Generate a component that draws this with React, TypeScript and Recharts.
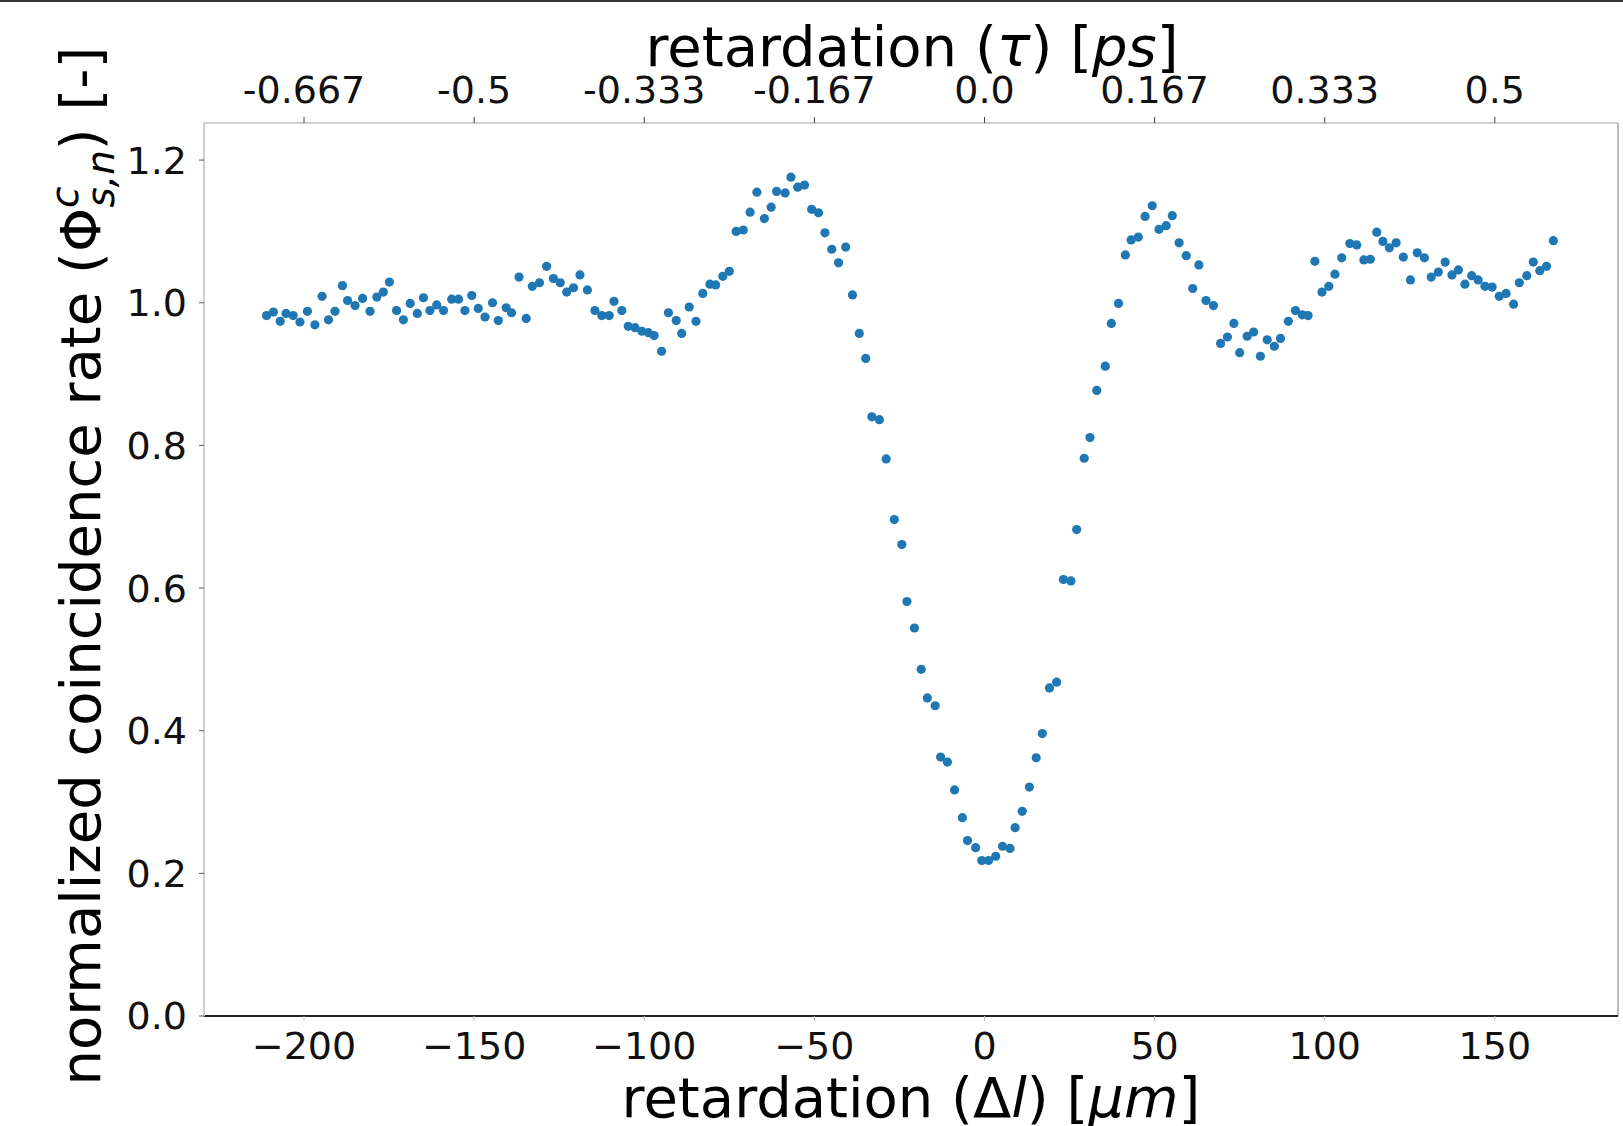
import { ScatterChart, Scatter, XAxis, YAxis, ReferenceLine, Label } from "recharts";

// retardation Δl [µm]
const retardation = [
  -211.0, -209.0, -207.0, -205.3, -203.2, -201.2, -199.0, -196.8, -194.7, -192.8,
  -190.9, -188.7, -187.2, -185.0, -182.8, -180.6, -178.6, -176.7, -174.9, -172.8,
  -170.8, -168.8, -166.7, -164.9, -163.0, -161.0, -159.0, -156.6, -154.6, -152.7,
  -150.7, -148.8, -146.8, -144.6, -142.9, -140.6, -139.0, -136.8, -134.7, -132.9,
  -130.8, -128.7, -126.7, -124.7, -122.8, -120.8, -118.9, -116.7, -114.5, -112.5,
  -110.3, -108.9, -106.6, -104.7, -102.7, -100.7, -98.8, -97.1, -94.9, -92.9,
  -90.6, -89.0, -86.8, -84.8, -82.8, -80.7, -79.0, -76.9, -75.0, -73.0,
  -70.9, -68.9, -66.9, -64.7, -62.7, -61.1, -58.6, -56.9, -54.9, -52.9,
  -50.8, -48.8, -46.9, -44.9, -42.9, -40.8, -38.8, -36.8, -34.9, -33.1,
  -30.9, -28.9, -26.5, -24.3, -22.8, -20.6, -18.6, -16.8, -14.5, -12.9,
  -10.9, -8.8, -6.5, -5.0, -2.6, -0.8, 1.2, 3.3, 5.3, 7.5,
  9.0, 11.1, 13.2, 15.2, 17.0, 19.1, 21.2, 23.2, 25.4, 27.1,
  29.3, 31.0, 33.0, 35.5, 37.3, 39.4, 41.4, 43.1, 45.2, 47.2,
  49.3, 51.3, 53.4, 55.2, 57.2, 59.3, 61.2, 63.0, 65.1, 67.3,
  69.4, 71.4, 73.3, 75.0, 77.2, 79.1, 81.1, 83.1, 85.2, 87.0,
  89.3, 91.4, 93.4, 95.1, 97.1, 99.2, 101.2, 103.0, 105.0, 107.4,
  109.4, 111.5, 113.4, 115.3, 117.1, 119.0, 121.0, 123.1, 125.2, 127.2,
  129.3, 131.3, 133.4, 135.4, 137.4, 139.3, 141.2, 143.2, 145.1, 147.1,
  149.2, 151.3, 153.3, 155.5, 157.2, 159.4, 161.3, 163.2, 165.2, 167.2,
];

// normalized coincidence rate
const rate = [
  0.982, 0.987, 0.974, 0.985, 0.982, 0.973, 0.988, 0.969, 1.009, 0.976,
  0.988, 1.024, 1.003, 0.996, 1.006, 0.988, 1.008, 1.015, 1.029, 0.989,
  0.976, 0.999, 0.985, 1.007, 0.989, 0.997, 0.989, 1.005, 1.005, 0.989,
  1.010, 0.992, 0.980, 1.000, 0.975, 0.993, 0.986, 1.036, 0.978, 1.023,
  1.028, 1.051, 1.034, 1.028, 1.015, 1.021, 1.039, 1.018, 0.989, 0.982,
  0.982, 1.002, 0.989, 0.967, 0.965, 0.960, 0.958, 0.954, 0.932, 0.986,
  0.975, 0.957, 0.994, 0.974, 1.013, 1.026, 1.025, 1.037, 1.044, 1.100,
  1.102, 1.127, 1.155, 1.118, 1.134, 1.156, 1.154, 1.176, 1.162, 1.165,
  1.131, 1.126, 1.098, 1.075, 1.056, 1.078, 1.011, 0.957, 0.922, 0.840,
  0.836, 0.781, 0.696, 0.661, 0.581, 0.544, 0.486, 0.446, 0.435, 0.363,
  0.356, 0.317, 0.278, 0.246, 0.236, 0.218, 0.218, 0.224, 0.238, 0.235,
  0.264, 0.287, 0.321, 0.362, 0.396, 0.460, 0.468, 0.612, 0.610, 0.682,
  0.782, 0.811, 0.877, 0.911, 0.971, 0.999, 1.067, 1.088, 1.092, 1.121,
  1.136, 1.103, 1.108, 1.122, 1.084, 1.066, 1.020, 1.053, 1.003, 0.996,
  0.943, 0.952, 0.971, 0.930, 0.953, 0.959, 0.925, 0.948, 0.939, 0.950,
  0.974, 0.989, 0.983, 0.982, 1.058, 1.015, 1.023, 1.040, 1.063, 1.083,
  1.081, 1.060, 1.061, 1.099, 1.086, 1.077, 1.084, 1.064, 1.032, 1.070,
  1.063, 1.036, 1.043, 1.057, 1.039, 1.046, 1.026, 1.038, 1.032, 1.023,
  1.022, 1.009, 1.013, 0.998, 1.028, 1.038, 1.057, 1.045, 1.051, 1.087,
];

const bottomTicks = [-200, -150, -100, -50, 0, 50, 100, 150];
const topTickLabels = ["-0.667", "-0.5", "-0.333", "-0.167", "0.0", "0.167", "0.333", "0.5"];
const yTicks = [0, 0.2, 0.4, 0.6, 0.8, 1.0, 1.2];

const xDomain = [-229.4, 186.2];
const yDomain = [0, 1.252];

const data = retardation.map((x, i) => ({ x, y: rate[i] }));

const FONT = "DejaVu Sans";
const BLUE = "#1f77b4";
const SPINE = "#cfcfcf";

const Dot = (props: any) => <circle cx={props.cx} cy={props.cy} r={4.6} fill={BLUE} />;

const BottomTitle = () => (
  <text x={911} y={1117} textAnchor="middle" fontSize={56} fontFamily={FONT} fill="#000">
    retardation (Δ<tspan fontStyle="italic">l</tspan>) [<tspan fontStyle="italic">μm</tspan>]
  </text>
);

const TopTitle = () => (
  <text x={912} y={66} textAnchor="middle" fontSize={56} fontFamily={FONT} fill="#000">
    retardation (<tspan fontStyle="italic">τ</tspan>) [<tspan fontStyle="italic">ps</tspan>]
  </text>
);

const LeftTitle = () => (
  <text
    x={0}
    y={0}
    transform="translate(100,566) rotate(-90)"
    textAnchor="middle"
    fontSize={56}
    fontFamily={FONT}
    fill="#000"
  >
    normalized coincidence rate (Φ
    <tspan fontStyle="italic" fontSize={39} dy={-22}>c</tspan>
    <tspan fontStyle="italic" fontSize={39} dx={-21} dy={36}>s,n</tspan>
    <tspan dy={-14}>) [-]</tspan>
  </text>
);

const tickStyle = { fontSize: 38, fill: "#111", fontFamily: FONT };

export default function App() {
  return (
    <div style={{ position: "absolute", left: 0, top: 0, width: 1623, height: 1126, background: "#fff" }}>
      <div style={{ position: "absolute", left: 0, top: 0, width: 1623, height: 2, background: "#333" }} />
      <ScatterChart width={1623} height={1126} margin={{ top: 63, right: 5, bottom: 50, left: 124 }}>
        <XAxis
          xAxisId="bottom"
          type="number"
          dataKey="x"
          domain={xDomain}
          ticks={bottomTicks}
          allowDataOverflow
          height={60}
          tickSize={5}
          tickMargin={11}
          axisLine={{ stroke: "#222", strokeWidth: 2 }}
          tickLine={{ stroke: "#bbb" }}
          tick={tickStyle}
          tickFormatter={(v: number) => (v < 0 ? `\u2212${-v}` : `${v}`)}
        >
          <Label content={BottomTitle} />
        </XAxis>
        <XAxis
          xAxisId="top"
          orientation="top"
          type="number"
          dataKey="x"
          domain={xDomain}
          ticks={bottomTicks}
          allowDataOverflow
          height={60}
          tickSize={6}
          tickMargin={14}
          axisLine={{ stroke: SPINE, strokeWidth: 2 }}
          tickLine={{ stroke: "#444" }}
          tick={tickStyle}
          tickFormatter={(_v: number, i: number) => topTickLabels[i]}
        >
          <Label content={TopTitle} />
        </XAxis>
        <YAxis
          type="number"
          dataKey="y"
          domain={yDomain}
          ticks={yTicks}
          allowDataOverflow
          width={80}
          tickSize={5}
          tickMargin={12}
          axisLine={{ stroke: SPINE, strokeWidth: 2 }}
          tickLine={{ stroke: "#555" }}
          tick={tickStyle}
          tickFormatter={(v: number) => v.toFixed(1)}
        >
          <Label content={LeftTitle} />
        </YAxis>
        <ReferenceLine xAxisId="bottom" x={xDomain[1]} stroke="#bbb" strokeWidth={2} />
        <Scatter xAxisId="top" data={data} shape={() => <g />} isAnimationActive={false} />
        <Scatter xAxisId="bottom" data={data} shape={Dot} isAnimationActive={false} />
      </ScatterChart>
    </div>
  );
}
